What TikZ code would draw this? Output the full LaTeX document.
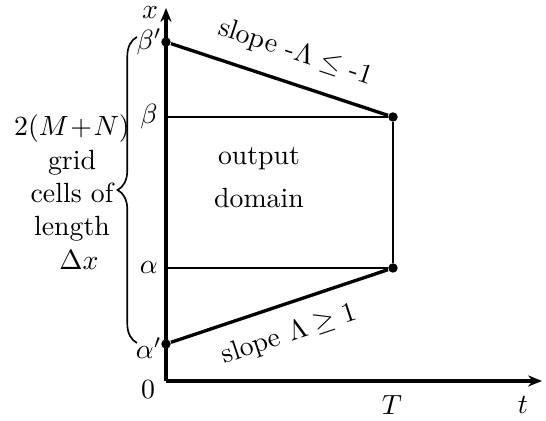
\documentclass[tikz,border=0pt]{standalone}
\usetikzlibrary{arrows.meta,positioning,decorations.pathreplacing}

\begin{document}
\begin{tikzpicture}[x=0.36pt,y=0.36pt,
  dot/.style={circle,fill,inner sep=0pt,minimum size=3.4pt},
  lbl/.style={inner sep=1pt},
  axis/.style={very thick,-{Stealth[length=5pt,width=4pt]}}]
\useasboundingbox (0,0) rectangle (546,421);
% axes
\coordinate (o) at (166,40);
\coordinate (xend) at (542,40);
\coordinate (yend) at (166,413);
\draw[axis] (o) -- (xend);
\draw[axis] (o) -- (yend);
% corner points of the domain
\node[dot] (bp) at (166,379) {};
\node[dot] (bq) at (393,304) {};
\node[dot] (aq) at (393,153) {};
\node[dot] (ap) at (166,77) {};
\coordinate (b) at (166,304);
\coordinate (a) at (166,153);
\draw[thick] (b) -- (bq);
\draw[thick] (a) -- (aq);
\draw[thick] (bq) -- (aq);
\draw[very thick] (bp) -- (bq) node[pos=.53,above=2.5pt,sloped] (sup) {slope -$\Lambda\leq$ -1};
\draw[very thick] (ap) -- (aq) node[pos=.5,below=2.5pt,sloped] (slo) {slope $\Lambda\geq 1$};
\node[align=center] (dom) at (259,243) {output\\[3.5pt]domain};
% labels
\node[lbl,anchor=east] (lbp) at (165,379) {$\beta'$};
\node[lbl,anchor=east] (lb) at (161,304) {$\beta$};
\node[lbl,anchor=east] (la) at (161,153) {$\alpha$};
\node[lbl,anchor=east] (lap) at (165,73) {$\alpha'$};
\node[lbl] (l0) at (148,31) {$0$};
\node[lbl] (lT) at (392,16) {$T$};
\node[lbl] (lt) at (523,16) {$t$};
\node[lbl] (lx) at (150,408) {$x$};
% brace
\coordinate (bb) at (137,78);
\coordinate (bt) at (137,384);
\draw[semithick,decorate,decoration={brace,amplitude=7pt}] (bb) -- (bt);
\node[align=center] (cells) at (72,229) {$2(M\!+\!N)$\\grid\\cells of\\length\\\hspace{5pt}$\Delta x$};
\end{tikzpicture}
\end{document}
